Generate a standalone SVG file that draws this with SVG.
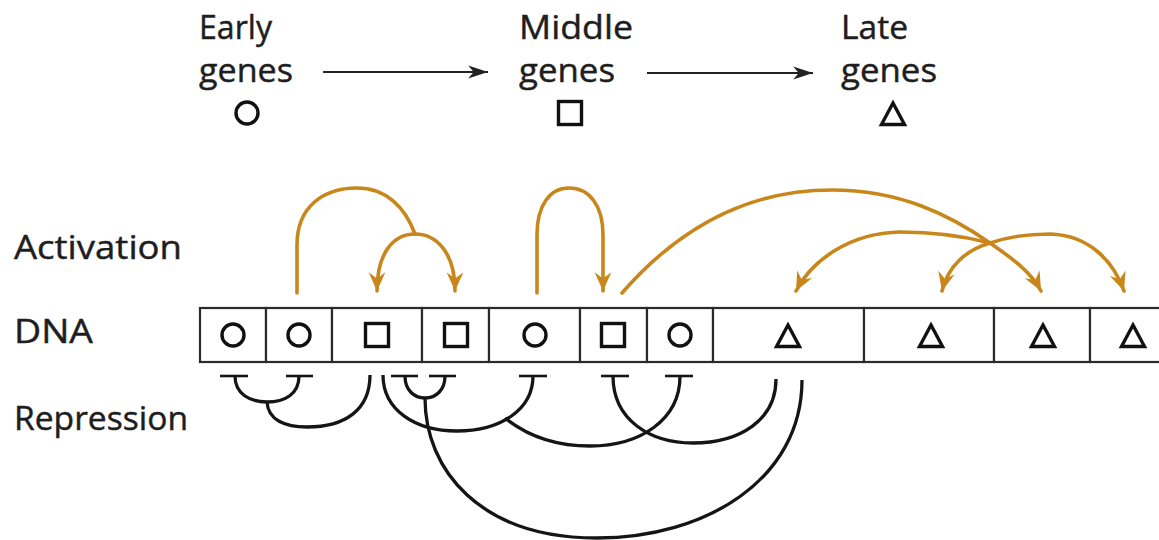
<svg xmlns="http://www.w3.org/2000/svg" xmlns:xlink="http://www.w3.org/1999/xlink" width="1159" height="540" viewBox="0 0 1159 540">
  <style>
    .lbl { font-family: "Open Sans", "Noto Sans", "Liberation Sans", sans-serif; font-size: 33px; fill: #1e1e1e; stroke: #1e1e1e; stroke-width: 0.45; }
    .sym { fill: none; stroke: #111; stroke-width: 3.4; }
    .cell { fill: #fff; stroke: #2a2a2a; stroke-width: 2.2; }
    .act { fill: none; stroke: #C8861B; stroke-width: 3.6; stroke-linecap: round; }
    .rep { fill: none; stroke: #151515; stroke-width: 3.3; }
    .bar { stroke: #151515; stroke-width: 2.6; }
    .flow { stroke: #222; stroke-width: 1.8; }
  </style>
  <defs>
    <g id="gCircle"><circle cx="0" cy="0" r="11" class="sym"/></g>
    <g id="gSquare"><rect x="-11.5" y="-11.5" width="23" height="23" class="sym"/></g>
    <g id="gTriangle"><path d="M0,-11 L11.5,10.5 L-11.5,10.5 Z" class="sym" stroke-linejoin="miter"/></g>
    <marker id="actHead" markerUnits="userSpaceOnUse" markerWidth="22" markerHeight="22" viewBox="-19 -9 21 18" refX="0" refY="0" orient="auto">
      <path d="M0,0 L-18,-8 L-12,0 L-18,8 Z" fill="#C8861B"/>
    </marker>
    <marker id="flowHead" markerUnits="userSpaceOnUse" markerWidth="22" markerHeight="16" viewBox="-18 -7 20 14" refX="0" refY="0" orient="auto">
      <path d="M0,0 L-18,-6 L-13,0 L-18,6 Z" fill="#222"/>
    </marker>
  </defs>

  <rect width="1159" height="540" fill="#fff"/>

  <!-- timeline legend -->
  <g id="early">
    <text class="lbl" x="199" y="39" textLength="73" lengthAdjust="spacingAndGlyphs">Early</text>
    <text class="lbl" x="199" y="82" textLength="94" lengthAdjust="spacingAndGlyphs">genes</text>
    <use href="#gCircle" x="247" y="113"/>
  </g>
  <g id="middle">
    <text class="lbl" x="519" y="39" textLength="114" lengthAdjust="spacingAndGlyphs">Middle</text>
    <text class="lbl" x="519" y="82" textLength="96" lengthAdjust="spacingAndGlyphs">genes</text>
    <use href="#gSquare" x="570" y="113"/>
  </g>
  <g id="late">
    <text class="lbl" x="841" y="39" textLength="67" lengthAdjust="spacingAndGlyphs">Late</text>
    <text class="lbl" x="841" y="82" textLength="96" lengthAdjust="spacingAndGlyphs">genes</text>
    <use href="#gTriangle" x="893" y="114"/>
  </g>

  <!-- row labels -->
  <g id="label-activation"><text class="lbl" x="14" y="259" textLength="168" lengthAdjust="spacingAndGlyphs">Activation</text></g>
  <g id="label-dna"><text class="lbl" x="14" y="343" textLength="79" lengthAdjust="spacingAndGlyphs">DNA</text></g>
  <g id="label-repression"><text class="lbl" x="14" y="430" textLength="174" lengthAdjust="spacingAndGlyphs">Repression</text></g>

  <!-- DNA segments -->
  <g id="dna">
    <g id="gene1"><rect class="cell" x="200" y="308" width="66" height="54"/><use href="#gCircle" x="233" y="335"/></g>
    <g id="gene2"><rect class="cell" x="266" y="308" width="66" height="54"/><use href="#gCircle" x="299" y="335"/></g>
    <g id="gene3"><rect class="cell" x="332" y="308" width="90" height="54"/><use href="#gSquare" x="377" y="335"/></g>
    <g id="gene4"><rect class="cell" x="422" y="308" width="67" height="54"/><use href="#gSquare" x="456" y="335"/></g>
    <g id="gene5"><rect class="cell" x="489" y="308" width="91" height="54"/><use href="#gCircle" x="535" y="335"/></g>
    <g id="gene6"><rect class="cell" x="580" y="308" width="67" height="54"/><use href="#gSquare" x="613" y="335"/></g>
    <g id="gene7"><rect class="cell" x="647" y="308" width="66" height="54"/><use href="#gCircle" x="680" y="335"/></g>
    <g id="gene8"><rect class="cell" x="713" y="308" width="151" height="54"/><use href="#gTriangle" x="788" y="336"/></g>
    <g id="gene9"><rect class="cell" x="864" y="308" width="130" height="54"/><use href="#gTriangle" x="931" y="336"/></g>
    <g id="gene10"><rect class="cell" x="994" y="308" width="96" height="54"/><use href="#gTriangle" x="1043" y="336"/></g>
    <g id="gene11"><rect class="cell" x="1090" y="308" width="90" height="54"/><use href="#gTriangle" x="1133" y="336"/></g>
  </g>

  <g id="connectors">
    <!-- temporal order -->
    <line class="flow" x1="323" y1="72" x2="488" y2="72" marker-end="url(#flowHead)"/>
    <line class="flow" x1="647" y1="73" x2="813" y2="73" marker-end="url(#flowHead)"/>

    <!-- activation -->
    <path class="act" d="M297,293 L297,245 C297,207 323,188 357,188 C386,188 405,207 415,234"/>
    <path class="act" d="M415,234 C394,234 377,252 377,291" marker-end="url(#actHead)"/>
    <path class="act" d="M415,234 C436,234 455,252 455,291" marker-end="url(#actHead)"/>

    <path class="act" d="M537,293 L537,235 C537,205 550,188 569,188 C589,188 603,205 603,235 L603,291" marker-end="url(#actHead)"/>

    <path class="act" d="M622,293 C690,215 762,190 832,190 C900,190 950,215 990,243 C1013,259 1031,272 1041,291" marker-end="url(#actHead)"/>
    <path class="act" d="M990,243 C960,235 930,232 900,232 C850,233 812,260 796,291" marker-end="url(#actHead)"/>
    <path class="act" d="M990,243 C966,250 948,266 942,291" marker-end="url(#actHead)"/>
    <path class="act" d="M990,243 C1010,236 1030,234 1050,234 C1088,235 1113,260 1124,291" marker-end="url(#actHead)"/>

    <!-- repression bars -->
    <line class="bar" x1="220" y1="376" x2="248" y2="376"/>
    <line class="bar" x1="286" y1="376" x2="313" y2="376"/>
    <line class="bar" x1="391" y1="376" x2="418" y2="376"/>
    <line class="bar" x1="429" y1="376" x2="456" y2="376"/>
    <line class="bar" x1="519" y1="376" x2="547" y2="376"/>
    <line class="bar" x1="601" y1="376" x2="629" y2="376"/>
    <line class="bar" x1="665" y1="376" x2="693" y2="376"/>

    <!-- repression -->
    <path class="rep" d="M235,376 C235,394 250,402 267,402 C285,402 299,394 299,376"/>
    <path class="rep" d="M267,402 C268,420 285,427 307,427 C345,427 370,410 370,375"/>
    <path class="rep" d="M405,376 C405,390 414,398 425,398 C436,398 445,390 445,376"/>
    <path class="rep" d="M425,398 C425,470 480,538 597,538 C705,538 802,480 802,380"/>
    <path class="rep" d="M383,375 C383,410 415,431 457,431 C500,431 533,410 533,376"/>
    <path class="rep" d="M505,418 C530,438 560,446 590,446 C640,446 680,420 680,376"/>
    <path class="rep" d="M613,376 C613,420 650,443 693,443 C740,443 776,420 776,379"/>
  </g>
</svg>
